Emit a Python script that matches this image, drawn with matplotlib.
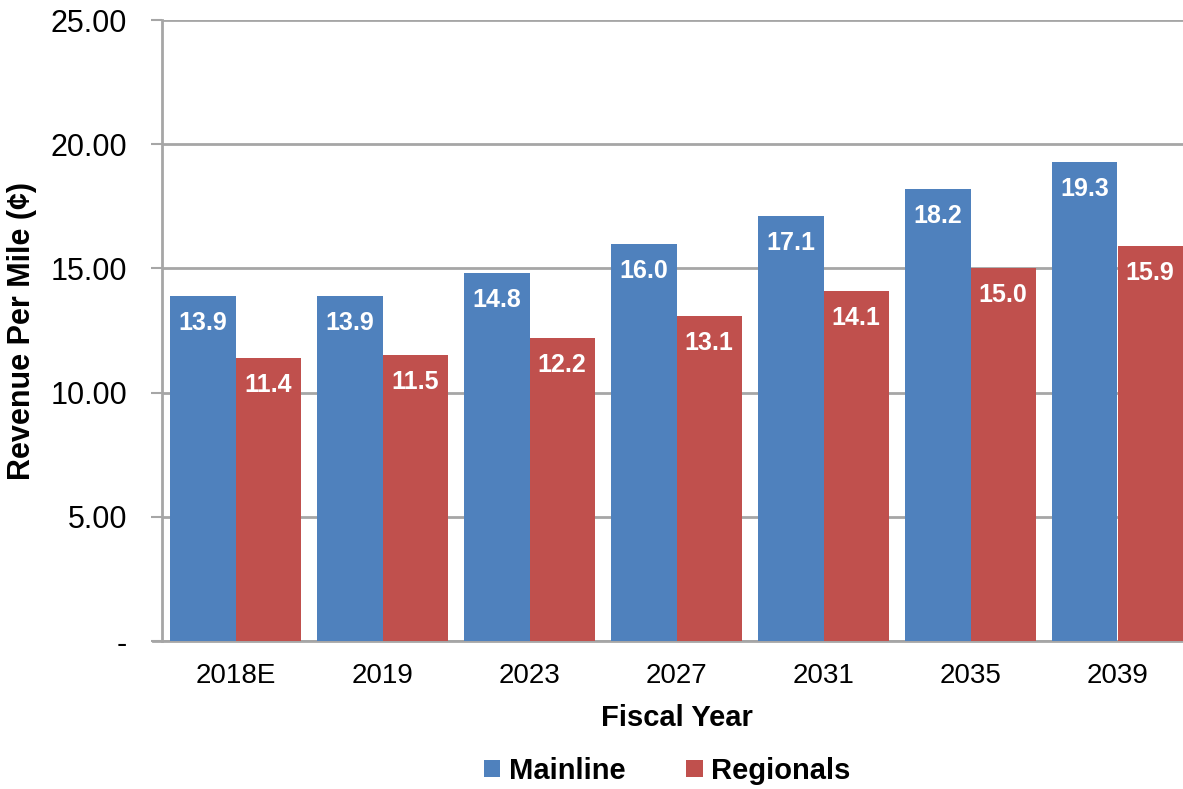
import numpy as np
import matplotlib.pyplot as plt
from matplotlib.ticker import FuncFormatter

plt.rcParams['font.family'] = ['Liberation Sans', 'DejaVu Sans']

# data
years = ['2018E', '2019', '2023', '2027', '2031', '2035', '2039']
mainline = [13.9, 13.9, 14.8, 16.0, 17.1, 18.2, 19.3]
regionals = [11.4, 11.5, 12.2, 13.1, 14.1, 15.0, 15.9]

blue = '#4F81BD'
red = '#C0504D'
grid_col = '#A6A6A6'

fig = plt.figure(figsize=(11.83, 7.89), dpi=100)
ax = fig.add_axes([162 / 1183, 1 - 641 / 789, 1029 / 1183, 621 / 789])

x = np.arange(len(years))
w = 0.443
b1 = ax.bar(x - w / 2, mainline, w, color=blue, label='Mainline', zorder=3)
b2 = ax.bar(x + w / 2, regionals, w, color=red, label='Regionals', zorder=3)

for bars, vals in [(b1, mainline), (b2, regionals)]:
    for bar, v in zip(bars, vals):
        ax.annotate(f'{v:.1f}', (bar.get_x() + bar.get_width() / 2, v),
                    xytext=(0, -27), textcoords='offset pixels',
                    ha='center', va='center', color='white',
                    fontsize=18, fontweight='bold', zorder=4)

ax.set_xlim(-0.5, 6.5)
ax.set_ylim(0, 25)
ax.set_yticks(np.arange(0, 26, 5))
ax.yaxis.set_major_formatter(FuncFormatter(lambda v, p: '-' if v == 0 else f'{v:.2f}'))
ax.set_xticks(x)
ax.set_xticklabels(years)
ax.tick_params(axis='x', length=0, labelsize=20, pad=16)
ax.tick_params(axis='y', length=8, width=1.5, color=grid_col, labelsize=22, pad=17)

ax.grid(axis='y', color=grid_col, linewidth=2, zorder=0)
for s in ['top', 'right']:
    ax.spines[s].set_visible(False)
ax.spines['left'].set_color(grid_col)
ax.spines['left'].set_linewidth(2)
ax.spines['bottom'].set_color(grid_col)
ax.spines['bottom'].set_linewidth(2)
ax.spines['bottom'].set_bounds(-0.5 - 9 / 147, 6.5)

ax.set_xlabel('Fiscal Year', fontsize=21, fontweight='bold', labelpad=11)
ax.set_ylabel('Revenue Per Mile (¢)', fontsize=22, fontweight='bold', labelpad=10)

fig.legend(handles=[b1, b2], loc='center', bbox_to_anchor=(0.564, 1 - 771 / 789),
           ncol=2, frameon=False, handlelength=0.55, handleheight=0.55,
           handletextpad=0.3, columnspacing=2.1,
           prop={'size': 21, 'weight': 'bold'})

fig.savefig('out.png', dpi=100)
